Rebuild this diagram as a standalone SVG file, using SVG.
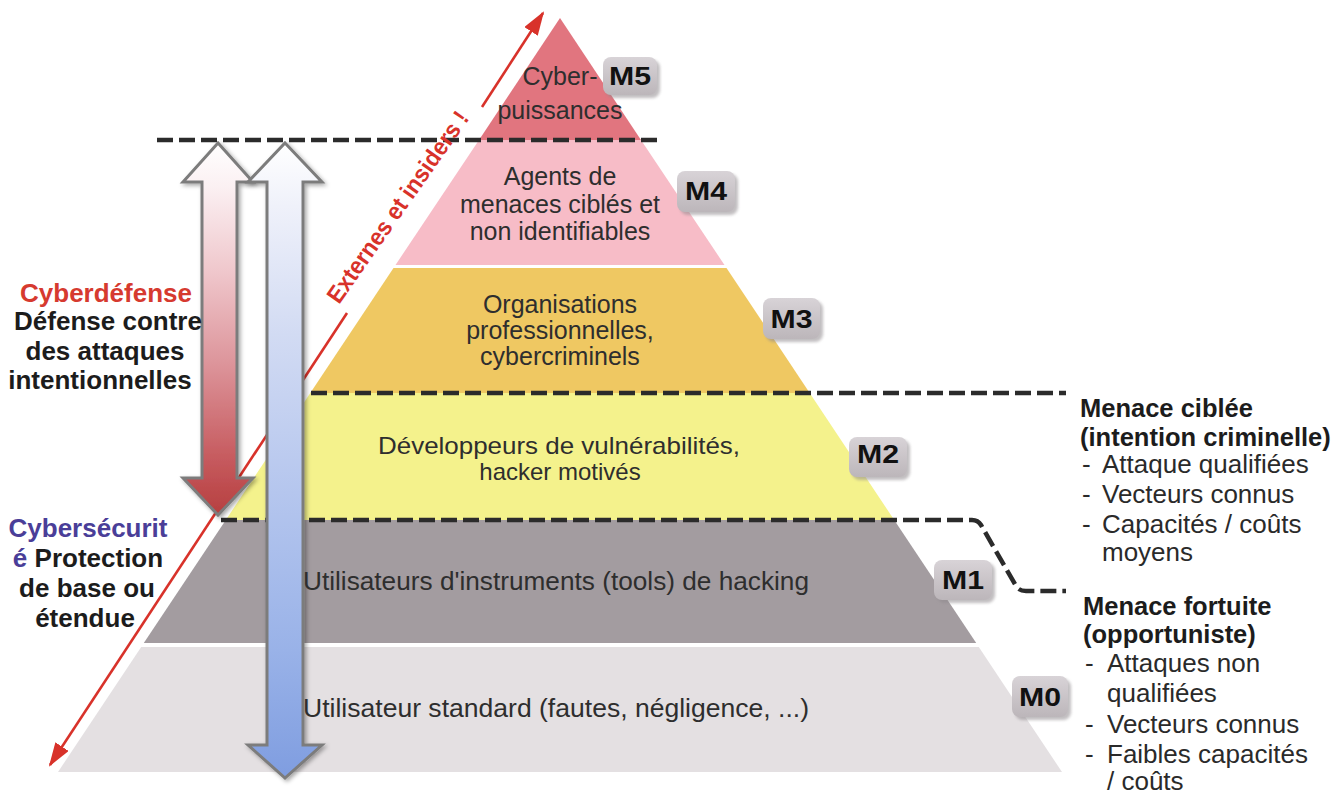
<svg xmlns="http://www.w3.org/2000/svg" width="1338" height="793" viewBox="0 0 1338 793">
<style>
  text { font-family: "Liberation Sans", Arial, sans-serif; }
  .lay { font-size: 25px; fill: #2e2e2e; text-anchor: middle; }
  .lay2 { font-size: 25px; fill: #2e2e2e; }
  .mtxt { font-size: 25px; font-weight: bold; fill: #111; text-anchor: middle; }
  .mbox { fill: url(#gBox); }
  .mshadow { fill: #8f898d; opacity: 0.55; filter: url(#blur2); }
  .dash { fill: none; stroke: #2b2b2b; stroke-width: 4.5; stroke-dasharray: 16 6; }
  .side { font-size: 26px; font-weight: bold; fill: #1c1c1c; text-anchor: middle; }
  .rb { font-size: 25.5px; font-weight: bold; fill: #1c1c1c; }
  .rr { font-size: 26px; fill: #2a2a2a; }
  .arrowOut { stroke: #7c7c7c; stroke-width: 3; stroke-linejoin: miter; filter: url(#shadow); }
  .redline { stroke: #d8322a; stroke-width: 2.6; fill: none; }
</style>
<defs>
  <linearGradient id="gBox" x1="0" y1="0" x2="0" y2="1">
    <stop offset="0" stop-color="#d8d3d7"/>
    <stop offset="1" stop-color="#bcb6ba"/>
  </linearGradient>
  <linearGradient id="gRed" gradientUnits="userSpaceOnUse" x1="0" y1="143" x2="0" y2="515">
    <stop offset="0" stop-color="#ffffff"/>
    <stop offset="0.12" stop-color="#fbf0f2"/>
    <stop offset="0.35" stop-color="#efc6cb"/>
    <stop offset="0.6" stop-color="#dc9399"/>
    <stop offset="0.85" stop-color="#c65a5e"/>
    <stop offset="1" stop-color="#b63f3f"/>
  </linearGradient>
  <linearGradient id="gBlue" gradientUnits="userSpaceOnUse" x1="0" y1="143" x2="0" y2="778">
    <stop offset="0" stop-color="#ffffff"/>
    <stop offset="0.1" stop-color="#eff1fa"/>
    <stop offset="0.3" stop-color="#d2dbf3"/>
    <stop offset="0.55" stop-color="#b5c6ee"/>
    <stop offset="0.8" stop-color="#99b2e8"/>
    <stop offset="1" stop-color="#7f9de0"/>
  </linearGradient>
  <filter id="shadow" x="-20%" y="-5%" width="150%" height="115%">
    <feDropShadow dx="2" dy="2" stdDeviation="2" flood-color="#000" flood-opacity="0.35"/>
  </filter>
  <filter id="blur2" x="-20%" y="-20%" width="140%" height="140%">
    <feGaussianBlur stdDeviation="1.5"/>
  </filter>
  <marker id="redHead" markerUnits="userSpaceOnUse" markerWidth="24" markerHeight="16" refX="22" refY="8" orient="auto">
    <path d="M0,0 L24,8 L0,16 z" fill="#d8322a"/>
  </marker>
</defs>

<rect width="1338" height="793" fill="#ffffff"/>

<!-- Pyramid layers -->
<g id="layer-m5">
  <polygon points="560,18 641,140 479,140" fill="#e1757f"/>
</g>
<g id="layer-m4">
  <polygon points="479,140 641,140 724.5,265 395.5,265" fill="#f7bcc7"/>
</g>
<g id="layer-m3">
  <polygon points="393.5,268 726.5,268 809.7,393 310.3,393" fill="#efc862"/>
</g>
<g id="layer-m2">
  <polygon points="310.3,393 809.7,393 894.2,520 225.8,520" fill="#f4f28c"/>
</g>
<g id="layer-m1">
  <polygon points="225.8,520 894.2,520 976.2,643 143.8,643" fill="#a39ca0"/>
</g>
<g id="layer-m0">
  <polygon points="141.2,647 978.8,647 1062,772 58,772" fill="#e4e0e2"/>
</g>

<!-- Connectors: dashed boundaries, diagonal arrow, vertical arrows -->
<g id="connectors">
  <path class="dash" d="M157,140 H662"/>
  <path class="dash" d="M311,393 H1066"/>
  <path class="dash" d="M221,520 H972 Q978,520 981,525 L1016,586 Q1019,591 1026,591 H1066"/>

  <path class="redline" d="M482,107 L543,13" marker-end="url(#redHead)"/>
  <path class="redline" d="M347,313 L50,765" marker-end="url(#redHead)"/>

  <polygon class="arrowOut" fill="url(#gRed)" points="218,143 253,182 237,182 237,478 253,478 218,515 183,478 202,478 202,182 183,182"/>
  <polygon class="arrowOut" fill="url(#gBlue)" points="285,143 322,182 303,182 303,745 322,745 285,778 248,745 267,745 267,182 248,182"/>
</g>

<text transform="translate(339,305) rotate(-55)" font-size="24" font-weight="bold" fill="#d8322a" textLength="228" lengthAdjust="spacingAndGlyphs">Externes et insiders !</text>

<!-- Layer labels -->
<g id="label-m5">
  <text class="lay" x="560" y="85">Cyber-</text>
  <text class="lay" x="560" y="119">puissances</text>
  <rect class="mshadow" x="606" y="60" width="54" height="38" rx="8"/>
  <rect class="mbox" x="603" y="57" width="54" height="38" rx="8"/>
  <text class="mtxt" x="630" y="85" textLength="42" lengthAdjust="spacingAndGlyphs">M5</text>
</g>
<g id="label-m4">
  <text class="lay" x="560" y="185">Agents de</text>
  <text class="lay" x="560" y="213">menaces ciblés et</text>
  <text class="lay" x="560" y="240">non identifiables</text>
  <rect class="mshadow" x="680" y="174" width="58" height="41" rx="8"/>
  <rect class="mbox" x="677" y="171" width="58" height="41" rx="8"/>
  <text class="mtxt" x="706" y="200" textLength="42" lengthAdjust="spacingAndGlyphs">M4</text>
</g>
<g id="label-m3">
  <text class="lay" x="560" y="313">Organisations</text>
  <text class="lay" x="560" y="339">professionnelles,</text>
  <text class="lay" x="560" y="365">cybercriminels</text>
  <rect class="mshadow" x="766" y="301" width="57" height="41" rx="8"/>
  <rect class="mbox" x="763" y="298" width="57" height="41" rx="8"/>
  <text class="mtxt" x="791.5" y="328" textLength="42" lengthAdjust="spacingAndGlyphs">M3</text>
</g>
<g id="label-m2">
  <text class="lay" x="559" y="454" style="font-size:24px" textLength="362" lengthAdjust="spacingAndGlyphs">Développeurs de vulnérabilités,</text>
  <text class="lay" x="560" y="480" style="font-size:24px">hacker motivés</text>
  <rect class="mshadow" x="852" y="440" width="58" height="40" rx="8"/>
  <rect class="mbox" x="849" y="437" width="58" height="40" rx="8"/>
  <text class="mtxt" x="878" y="463" textLength="42" lengthAdjust="spacingAndGlyphs">M2</text>
</g>
<g id="label-m1">
  <text class="lay2" x="303" y="590" textLength="506" lengthAdjust="spacingAndGlyphs">Utilisateurs d'instruments (tools) de hacking</text>
  <rect class="mshadow" x="937" y="563" width="58" height="40" rx="8"/>
  <rect class="mbox" x="934" y="560" width="58" height="40" rx="8"/>
  <text class="mtxt" x="963" y="589" textLength="42" lengthAdjust="spacingAndGlyphs">M1</text>
</g>
<g id="label-m0">
  <text class="lay2" x="303" y="717" textLength="506" lengthAdjust="spacingAndGlyphs">Utilisateur standard (fautes, négligence, ...)</text>
  <rect class="mshadow" x="1015" y="679" width="56" height="41" rx="8"/>
  <rect class="mbox" x="1012" y="676" width="56" height="41" rx="8"/>
  <text class="mtxt" x="1040" y="706" textLength="42" lengthAdjust="spacingAndGlyphs">M0</text>
</g>

<!-- Left side labels -->
<g id="cyberdefense">
  <text class="side" x="106" y="302" style="fill:#d63a2f">Cyberdéfense</text>
  <text class="side" x="108" y="330">Défense contre</text>
  <text class="side" x="105" y="360">des attaques</text>
  <text class="side" x="100" y="389">intentionnelles</text>
</g>
<g id="cybersecurite">
  <text class="side" x="88" y="537" style="fill:#4a3e98">Cybersécurit</text>
  <text class="side" x="88" y="567"><tspan style="fill:#4a3e98">é</tspan> Protection</text>
  <text class="side" x="87" y="597">de base ou</text>
  <text class="side" x="85" y="627">étendue</text>
</g>

<!-- Right side labels -->
<g id="menace-ciblee">
  <text class="rb" x="1080" y="417">Menace ciblée</text>
  <text class="rb" x="1080" y="446">(intention criminelle)</text>
  <text class="rr" x="1082" y="473">-</text><text class="rr" x="1102" y="473">Attaque qualifiées</text>
  <text class="rr" x="1082" y="503">-</text><text class="rr" x="1102" y="503">Vecteurs connus</text>
  <text class="rr" x="1082" y="533">-</text><text class="rr" x="1102" y="533">Capacités / coûts</text>
  <text class="rr" x="1102" y="561">moyens</text>
</g>
<g id="menace-fortuite">
  <text class="rb" x="1083" y="615">Menace fortuite</text>
  <text class="rb" x="1083" y="643">(opportuniste)</text>
  <text class="rr" x="1085" y="672">-</text><text class="rr" x="1107" y="672">Attaques non</text>
  <text class="rr" x="1107" y="702">qualifiées</text>
  <text class="rr" x="1085" y="733">-</text><text class="rr" x="1107" y="733">Vecteurs connus</text>
  <text class="rr" x="1085" y="763">-</text><text class="rr" x="1107" y="763">Faibles capacités</text>
  <text class="rr" x="1107" y="790">/ coûts</text>
</g>
</svg>
